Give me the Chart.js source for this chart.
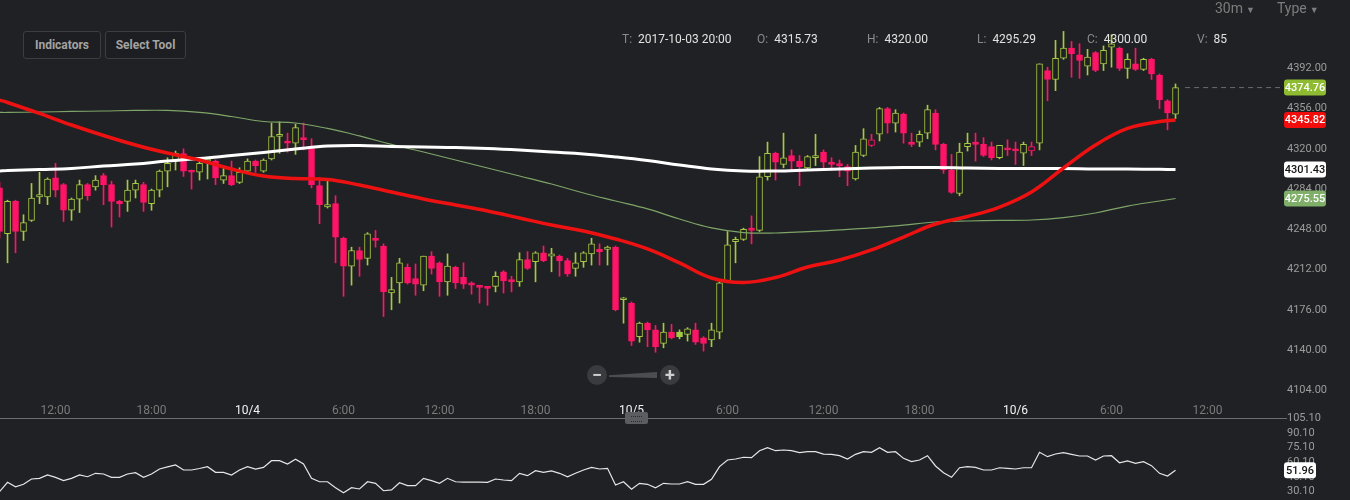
<!DOCTYPE html>
<html lang="en">
<head>
<meta charset="utf-8">
<title>BTC 30m</title>
<script src="https://cdn.jsdelivr.net/npm/chart.js"></script>
<style>
    body {
        margin: 0;
        width: 1350px;
        height: 500px;
        overflow: hidden;
        position: relative;
        background: #202125;
        font-family: Roboto, 'Noto Sans', sans-serif;
    }
    canvas { position: absolute; left: 0; }
    #price { top: 0; }
    #rsi { top: 405px; }
    .btn {
        position: absolute;
        top: 31px;
        height: 26px;
        border: 1px solid #3c3d41;
        border-radius: 3px;
        background: #1d1e21;
        color: #a3a3a3;
        font-size: 12px;
        font-weight: bold;
        line-height: 26px;
        text-align: center;
        z-index: 2;
    }
    .info { position: absolute; top: 32px; font-size: 12px; color: #e2e2e2; z-index: 2; white-space: nowrap; }
    .info b { font-weight: normal; color: #8a8a8a; margin-right: 6px; }
    .menu { position: absolute; top: 0; font-size: 14px; color: #7d7d7d; z-index: 2; }
    .menu span { font-size: 9px; margin-left: 3px; }
    .circle {
        position: absolute; top: 365px; width: 20px; height: 20px; border-radius: 50%;
        background: #3a3b3f; color: #cfcfcf; font-size: 18px; font-weight: bold;
        line-height: 19px; text-align: center; z-index: 2;
    }
    #slider {
        position: absolute; left: 609px; top: 372px; width: 48px; height: 6px;
        background: #4c4d51; clip-path: polygon(0 55%, 100% 0, 100% 100%, 0 85%); z-index: 2;
    }
    #sep { position: absolute; left: 0; top: 418px; width: 1287px; height: 1px; background: #6d6e72; z-index: 1; }
    #handle {
        position: absolute; left: 625px; top: 412px; width: 23px; height: 12px; border-radius: 2px;
        background: #5c5d61; z-index: 2;
    }
    #handle div { margin: 4px 6px; height: 4px; border-top: 1px dotted #2a2a2a; border-bottom: 1px dotted #2a2a2a; }
</style>
</head>
<body>
<canvas id="price" width="1350" height="418"></canvas>
<canvas id="rsi" width="1350" height="95"></canvas>

<div class="btn" style="left:23px;width:76px;">Indicators</div>
<div class="btn" style="left:105px;width:79px;">Select Tool</div>

<div class="info" style="left:622px;"><b>T:</b>2017-10-03 20:00</div>
<div class="info" style="left:757px;"><b>O:</b>4315.73</div>
<div class="info" style="left:867px;"><b>H:</b>4320.00</div>
<div class="info" style="left:977px;"><b>L:</b>4295.29</div>
<div class="info" style="left:1087px;"><b>C:</b>4300.00</div>
<div class="info" style="left:1197px;"><b>V:</b>85</div>

<div class="menu" style="left:1215px;">30m<span>&#9660;</span></div>
<div class="menu" style="left:1277px;">Type<span>&#9660;</span></div>

<div class="circle" style="left:587px;">&minus;</div>
<div id="slider"></div>
<div class="circle" style="left:660px;">+</div>
<div id="sep"></div>
<div id="handle"><div></div></div>

<script>
// hours relative to 2017-10-04 00:00, one candle every 30 min, first at 10/3 08:30
const firstHour = -15.5;
const stepHour = 0.5;

const openPx = [
    4285, 4244, 4273, 4246, 4256, 4277, 4277, 4294, 4288, 4265,
    4275, 4288, 4286, 4296, 4288, 4273, 4273, 4283, 4288, 4271,
    4283, 4300, 4309, 4315.73, 4300, 4299, 4309, 4309, 4292, 4296,
    4290, 4300, 4309, 4300, 4311, 4331, 4327, 4325, 4330, 4321,
    4287, 4268, 4271, 4240, 4215, 4229, 4222, 4240, 4233, 4191,
    4200, 4214, 4204, 4198, 4224, 4218, 4201, 4214, 4205, 4200,
    4197, 4197, 4197, 4210, 4203, 4201, 4221, 4219, 4227, 4224,
    4224, 4220, 4213, 4219, 4226, 4230, 4230, 4232, 4185, 4182,
    4152, 4164, 4158, 4146, 4156, 4156, 4154, 4158, 4151, 4149,
    4156, 4202, 4237, 4239, 4249, 4247, 4295, 4316, 4306, 4314,
    4309, 4303, 4312, 4317, 4308, 4306, 4304, 4293, 4314, 4323,
    4333, 4356, 4343, 4351, 4326, 4326, 4334, 4352, 4324, 4301,
    4280, 4322, 4326, 4324, 4322, 4312, 4320, 4320, 4316, 4318,
    4325, 4390, 4382, 4401, 4410, 4404, 4394, 4406, 4396, 4411,
    4410, 4392, 4396, 4391, 4400, 4386, 4363, 4351
];
const highPx = [
    4290, 4274, 4274, 4261, 4289, 4299, 4294, 4307, 4289, 4276,
    4292, 4289, 4296, 4298, 4291, 4274, 4292, 4292, 4290, 4284,
    4301, 4312, 4318, 4320, 4301, 4309, 4311, 4310, 4304, 4309,
    4303, 4311, 4310, 4311, 4343, 4344, 4334, 4342, 4343, 4329,
    4294, 4291, 4278, 4241, 4232, 4232, 4245, 4247, 4235, 4205,
    4222, 4217, 4217, 4224, 4228, 4219, 4226, 4215, 4218, 4201,
    4198, 4197, 4210, 4211, 4206, 4227, 4228, 4228, 4233, 4231,
    4225, 4222, 4227, 4228, 4240, 4235, 4233, 4233, 4187, 4183,
    4165, 4165, 4162, 4164, 4163, 4158, 4160, 4164, 4152, 4164,
    4202, 4246, 4241, 4249, 4260, 4313, 4326, 4317, 4334, 4319,
    4314, 4314, 4333, 4319, 4312, 4310, 4306, 4323, 4338, 4333,
    4357, 4357, 4355, 4352, 4334, 4336, 4359, 4355, 4325, 4315,
    4325, 4334, 4334, 4330, 4326, 4323, 4328, 4326, 4326, 4326,
    4396, 4393, 4417, 4425, 4416, 4414, 4409, 4407, 4412, 4422,
    4411, 4405, 4410, 4401, 4401, 4387, 4364, 4378
];
const lowPx = [
    4240, 4218, 4227, 4238, 4255, 4271, 4270, 4277, 4255, 4256,
    4263, 4274, 4283, 4270, 4250, 4259, 4264, 4276, 4264, 4265,
    4277, 4286, 4301, 4295.29, 4284, 4292, 4293, 4288, 4289, 4287,
    4289, 4299, 4299, 4299, 4310, 4316, 4317, 4315, 4319, 4285,
    4253, 4267, 4218, 4188, 4198, 4206, 4216, 4232, 4170, 4176,
    4182, 4199, 4189, 4193, 4208, 4188, 4189, 4195, 4195, 4190,
    4182, 4180, 4192, 4191, 4192, 4197, 4212, 4201, 4219, 4210,
    4206, 4206, 4206, 4214, 4216, 4216, 4216, 4175, 4164, 4144,
    4147, 4143, 4138, 4142, 4150, 4150, 4148, 4145, 4139, 4143,
    4150, 4201, 4218, 4238, 4235, 4246, 4292, 4292, 4303, 4300,
    4287, 4301, 4305, 4301, 4301, 4295, 4287, 4292, 4313, 4322,
    4327, 4334, 4335, 4325, 4322, 4322, 4329, 4319, 4298, 4280,
    4278, 4318, 4309, 4313, 4310, 4311, 4314, 4306, 4305, 4314,
    4319, 4363, 4372, 4400, 4384, 4383, 4386, 4389, 4390, 4393,
    4390, 4383, 4390, 4390, 4382, 4356, 4337, 4347
];
const closePx = [
    4246, 4273, 4246, 4254, 4276, 4279, 4293, 4283, 4265, 4275,
    4288, 4278, 4292, 4288, 4273, 4271, 4283, 4289, 4272, 4283,
    4300, 4307, 4316, 4300, 4299, 4307, 4310, 4294, 4296, 4288,
    4299, 4309, 4305, 4310, 4331, 4333, 4325, 4339, 4328, 4288,
    4270, 4270, 4241, 4215, 4229, 4221, 4244, 4238, 4192, 4194,
    4218, 4200, 4199, 4224, 4213, 4201, 4215, 4200, 4199, 4198,
    4196, 4195, 4206, 4202, 4201, 4221, 4213, 4227, 4220, 4226,
    4220, 4208, 4218, 4227, 4235, 4228, 4232, 4176, 4186, 4148,
    4164, 4158, 4143, 4156, 4151, 4152, 4159, 4147, 4146, 4158,
    4200, 4234, 4239, 4248, 4247, 4295, 4316, 4308, 4312, 4309,
    4304, 4313, 4314, 4308, 4306, 4305, 4300, 4317, 4329, 4328,
    4356, 4343, 4352, 4334, 4324, 4333, 4355, 4324, 4301, 4281,
    4317, 4325, 4324, 4314, 4312, 4323, 4319, 4318, 4324, 4322,
    4396, 4382, 4401, 4410, 4405, 4399, 4402, 4390, 4408, 4414,
    4392, 4400, 4391, 4400, 4387, 4364, 4352, 4374.76
];

// moving averages, read every 2 hours
const maHours = [-15.5, -15, -13, -11, -9, -7, -5, -3, -1, 1, 3, 5, 7, 9, 11, 13, 15, 17, 19, 21,
    23, 25, 27, 29, 31, 33, 35, 37, 39, 41, 43, 45, 47, 49, 51, 53, 55, 57, 58];
const maRed = [4363.6, 4361.4, 4351.6, 4341.3, 4331.9, 4323.4, 4316.2, 4310.0, 4301.9, 4295.7,
    4293.4, 4292.5, 4287.6, 4281.4, 4275.1, 4269.7, 4264.4, 4258.1, 4251.8, 4246.5,
    4239.3, 4230.4, 4217.9, 4204.4, 4200.4, 4204.9, 4214.3, 4220.5, 4229.5, 4241.1,
    4252.7, 4259.4, 4267.9, 4281.4, 4302.8, 4323.4, 4338.2, 4344.4, 4345.82];
const maWhite = [4300.1, 4300.6, 4301.5, 4302.4, 4304.6, 4306.4, 4309.1, 4311.3, 4314.0, 4316.7,
    4319.8, 4322.5, 4323.0, 4322.1, 4321.6, 4321.2, 4320.3, 4318.9, 4317.1, 4315.4,
    4312.7, 4309.5, 4305.5, 4301.9, 4300.1, 4300.1, 4301.0, 4301.9, 4302.8, 4303.3,
    4303.3, 4302.8, 4302.4, 4302.4, 4302.4, 4301.9, 4301.9, 4301.6, 4301.43];
const maGreen = [4352.5, 4352.5, 4352.9, 4353.4, 4353.8, 4354.3, 4354.3, 4352.5, 4348.9, 4344.4,
    4343.1, 4338.2, 4331.5, 4323.9, 4317.1, 4310.0, 4302.8, 4295.7, 4288.5, 4280.5,
    4273.3, 4266.2, 4257.2, 4249.2, 4245.1, 4244.7, 4246.0, 4247.4, 4249.2, 4251.8,
    4254.5, 4255.4, 4255.9, 4256.3, 4258.5, 4262.6, 4268.8, 4273.3, 4275.55];

const rsiValues = [
    30.1, 39.7, 35.2, 37.7, 43.1, 43.8, 47.2, 44.8, 41.4, 43.8,
    47.2, 45.4, 48.9, 48.2, 44.8, 44.8, 48.2, 49.5, 44.8, 48.2,
    53.3, 55.4, 57.4, 52.3, 52.3, 53.8, 55.7, 49.9, 49.9, 47.2,
    52.3, 55.7, 53.3, 55.0, 61.8, 61.8, 58.4, 63.2, 58.4, 43.8,
    40.3, 40.3, 34.2, 29.1, 34.2, 32.9, 40.3, 38.7, 31.1, 31.9,
    39.3, 36.3, 36.3, 43.8, 41.4, 38.7, 43.8, 40.3, 40.0, 40.0,
    40.0, 39.7, 43.1, 42.1, 41.4, 48.9, 46.5, 51.6, 49.9, 51.3,
    48.9, 45.4, 48.9, 52.3, 55.0, 53.3, 54.0, 37.0, 40.3, 32.6,
    38.7, 37.7, 34.2, 38.7, 38.0, 38.0, 40.3, 37.7, 37.7, 42.8,
    55.7, 62.5, 63.5, 65.3, 64.9, 72.0, 75.1, 72.0, 72.7, 72.0,
    70.0, 71.0, 71.0, 68.6, 68.3, 66.9, 63.5, 68.3, 71.0, 70.4,
    75.1, 70.4, 71.0, 64.2, 60.8, 62.5, 66.9, 56.4, 49.5, 44.8,
    54.6, 55.7, 55.0, 52.3, 52.3, 54.6, 54.0, 53.3, 54.6, 54.6,
    70.4, 65.9, 68.6, 70.0, 68.3, 66.6, 66.6, 62.5, 66.6, 66.9,
    59.7, 61.5, 59.1, 60.8, 56.7, 48.9, 46.2, 51.96
];

const timeTicks = [-12, -6, 0, 6, 12, 18, 24, 30, 36, 42, 48, 54, 60];
const timeLabels = ['12:00', '18:00', '10/4', '6:00', '12:00', '18:00', '10/5', '6:00', '12:00', '18:00', '10/6', '6:00', '12:00'];
const priceTicks = [4104, 4140, 4176, 4212, 4248, 4284, 4320, 4356, 4392];
const rsiTicks = [30.1, 45.1, 60.1, 75.1, 90.1, 105.1];
const lastPrice = 4374.76;

const BG = '#202125';
const GREEN = '#a6c944';
const RED = '#ff1467';
const X_MIN = -15.47, X_MAX = 64.53;

const hours = openPx.map((_, i) => firstHour + i * stepHour);

// hollow candles: fill when close < open, colour by change from previous close
const candleColor = closePx.map((c, i) => {
    const up = i === 0 ? c >= openPx[i] : c >= closePx[i - 1];
    return up ? GREEN : RED;
});
const bodyFill = closePx.map((c, i) => c < openPx[i] ? candleColor[i] : BG);

const line = (data, color, width) => ({
    type: 'line',
    data: maHours.map((h, i) => ({ x: h, y: data[i] })),
    borderColor: color,
    borderWidth: width,
    pointRadius: 0,
    tension: 0.4,
    order: 1
});

const noPad = s => { s.paddingTop = 0; s.paddingBottom = 0; s.paddingLeft = 0; s.paddingRight = 0; };

const tagPlugin = {
    id: 'tags',
    afterDraw(chart, args, opts) {
        const ctx = chart.ctx;
        const y = chart.scales.y;
        const left = chart.chartArea.right + 4;
        opts.items.forEach(t => {
            const py = y.getPixelForValue(t.value);
            ctx.save();
            ctx.fillStyle = t.bg;
            ctx.beginPath();
            ctx.roundRect(left, py - 8, t.w, 16, 3);
            ctx.fill();
            ctx.fillStyle = t.fg;
            ctx.font = '500 11px Roboto';
            ctx.textAlign = 'center';
            ctx.textBaseline = 'middle';
            ctx.fillText(t.value.toFixed(2), left + t.w / 2, py + 0.5);
            ctx.restore();
        });
    }
};

const rightTicks = {
    autoSkip: false,
    padding: 7,
    color: '#9c9c9c',
    font: { family: 'Roboto', size: 11 },
    callback: v => v.toFixed(2)
};

new Chart(document.getElementById('price'), {
    type: 'bar',
    data: {
        datasets: [
            {
                type: 'line',
                data: [{ x: 58.6, y: lastPrice }, { x: X_MAX, y: lastPrice }],
                borderColor: '#6b6c70',
                borderWidth: 1,
                borderDash: [5, 4],
                pointRadius: 0,
                order: 0
            },
            line(maRed, '#ee1111', 3.5),
            line(maWhite, '#ffffff', 3),
            line(maGreen, '#7ea567', 1.2),
            {
                data: hours.map((h, i) => ({ x: h, y: [Math.min(openPx[i], closePx[i]), Math.max(openPx[i], closePx[i])] })),
                backgroundColor: bodyFill,
                borderColor: candleColor,
                borderWidth: 1,
                borderSkipped: false,
                barThickness: 6,
                minBarLength: 2,
                grouped: false,
                order: 2
            },
            {
                data: hours.map((h, i) => ({ x: h, y: [lowPx[i], highPx[i]] })),
                backgroundColor: candleColor,
                borderWidth: 0,
                barThickness: 1,
                grouped: false,
                order: 3
            }
        ]
    },
    options: {
        responsive: false,
        animation: false,
        events: [],
        layout: { padding: 0 },
        plugins: {
            legend: { display: false },
            tooltip: { enabled: false },
            tags: {
                items: [
                    { value: 4374.76, bg: '#8fbb32', fg: '#ffffff', w: 42 },
                    { value: 4345.82, bg: '#f20d0d', fg: '#ffffff', w: 42 },
                    { value: 4301.43, bg: '#ffffff', fg: '#111111', w: 42 },
                    { value: 4275.55, bg: '#7faf68', fg: '#ffffff', w: 42 }
                ]
            }
        },
        scales: {
            x: {
                type: 'linear',
                min: X_MIN,
                max: X_MAX,
                offset: false,
                grid: { display: false, drawTicks: false },
                border: { display: false },
                ticks: {
                    autoSkip: false,
                    maxRotation: 0,
                    padding: 4,
                    color: c => (c.tick && c.tick.value % 24 === 0) ? '#f2f2f2' : '#7a7a7a',
                    font: { family: 'Roboto', size: 12 },
                    callback: (v, i) => timeLabels[i]
                },
                afterBuildTicks: s => { s.ticks = timeTicks.map(v => ({ value: v })); },
                afterFit: s => { s.height = 18; noPad(s); }
            },
            y: {
                position: 'right',
                min: 4095.3,
                max: 4453.1,
                grid: { display: false, drawTicks: false },
                border: { display: false },
                ticks: rightTicks,
                afterBuildTicks: s => { s.ticks = priceTicks.map(v => ({ value: v })); },
                afterFit: s => { s.width = 70; noPad(s); }
            }
        }
    },
    plugins: [tagPlugin]
});

new Chart(document.getElementById('rsi'), {
    type: 'line',
    data: {
        datasets: [{
            data: hours.map((h, i) => ({ x: h, y: rsiValues[i] })),
            borderColor: '#e6e6e6',
            borderWidth: 1.2,
            pointRadius: 0,
            tension: 0
        }]
    },
    options: {
        responsive: false,
        animation: false,
        events: [],
        layout: { padding: { top: 13 } },
        plugins: {
            legend: { display: false },
            tooltip: { enabled: false },
            tags: { items: [{ value: 51.96, bg: '#ffffff', fg: '#111111', w: 32 }] }
        },
        scales: {
            x: { type: 'linear', min: X_MIN, max: X_MAX, display: false },
            y: {
                position: 'right',
                min: 21.65,
                max: 105.4,
                grid: { display: false, drawTicks: false },
                border: { display: false },
                ticks: rightTicks,
                afterBuildTicks: s => { s.ticks = rsiTicks.map(v => ({ value: v })); },
                afterFit: s => { s.width = 70; noPad(s); }
            }
        }
    },
    plugins: [tagPlugin]
});
</script>
</body>
</html>
